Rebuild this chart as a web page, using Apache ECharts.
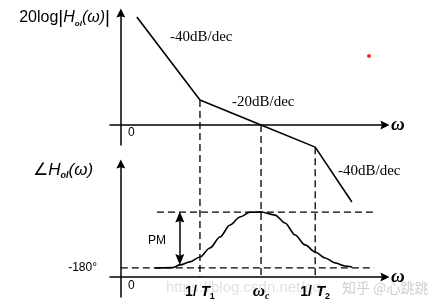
<!DOCTYPE html>
<html><head><meta charset="utf-8">
<script src="https://cdn.jsdelivr.net/npm/echarts@6/dist/echarts.min.js"></script>
<style>html,body{margin:0;padding:0;background:#fff}#c{width:436px;height:307px}</style>
</head><body><div id="c"></div>
<script>
// ---- data (x: log-frequency, decades from the origin) ----
const breakNames = ['1/T1', 'ωc', '1/T2'];
const breakFreqs = [1.315, 2.33, 3.23];
// magnitude asymptote, dB
const magFreqs  = [0.266, 1.315, 2.33, 3.23, 3.84];
const magValues = [86.4, 20, 0, -17.7, -61.6];
const slopeLabels = ['-40dB/dec', '-20dB/dec', '-40dB/dec'];
// phase, degrees
const phaseFreqs  = [0.566, 0.865, 0.982, 1.148, 1.315, 1.481, 1.648, 1.814, 1.98, 2.147, 2.33, 2.563, 2.729, 2.896, 3.062, 3.228, 3.395, 3.561, 3.728, 3.844];
const phaseValues = [-180, -179.7, -177.3, -174.6, -170.2, -162.1, -152.3, -141.6, -134.4, -130.2, -130, -132.7, -139.8, -150.5, -159.4, -165.7, -171.1, -175.5, -178.2, -179.1];
const phaseRefLevels = [-180, -130];      // -180° line and phase-margin level
const phaseRefStart  = [0, 0.6];          // where each reference line starts
const phaseRefEnd    = 4.21;
const phaseAxisLevel = -188;              // frequency axis of the phase plot
const pmFreq = 0.98;
const pmRange = [-134.5, -172.5];         // PM arrow shaft (heads reach -130 / the curve)
const phaseTickValues = [-180];
const phaseTickLabels = ['-180°'];

const SANS = 'Liberation Sans, Arial, DejaVu Sans';
const SERIF = 'Liberation Serif, Times New Roman, DejaVu Serif';
const HEAD = 'path://M5 0L10 10L5 8.5L0 10Z';

const chart = echarts.init(document.getElementById('c'), null, {renderer: 'canvas'});

const axisLineStyle = {color: '#000', width: 1.5};
const arrow = {show: true, symbol: ['none', HEAD], symbolSize: [9, 9], lineStyle: axisLineStyle};

const option = {
  animation: false,
  backgroundColor: '#fff',
  grid: [
    {left: 110, width: 275, top: 13, height: 132},
    {left: 110, width: 275, top: 164, height: 133}
  ],
  xAxis: [
    {type: 'value', gridIndex: 0, min: -0.18, max: 4.39,
     axisLine: Object.assign({onZero: true}, arrow),
     axisTick: {show: false}, splitLine: {show: false}, axisLabel: {show: false},
     name: 'ω', nameLocation: 'end', nameGap: 6,
     nameTextStyle: {fontFamily: SERIF, fontStyle: 'italic', fontWeight: 'bold', fontSize: 19, color: '#000', padding: [0, 0, 4, 0]}},
    {type: 'value', gridIndex: 1, min: -0.18, max: 4.39, offset: -20,
     axisLine: Object.assign({onZero: false}, arrow),
     axisTick: {show: false}, splitLine: {show: false},
     axisLabel: {show: true, customValues: breakFreqs, margin: 6, color: '#000',
       formatter: function (v) {
         const i = breakFreqs.findIndex(f => Math.abs(f - v) < 1e-6);
         const n = breakNames[i];
         if (n === 'ωc') return '{w|ω}{s2|c}';
         return '{n|1/ }{t|T}{s|' + n.slice(3) + '}';
       },
       rich: {
         n: {fontFamily: SANS, fontWeight: 'bold', fontSize: 14, lineHeight: 18, color: '#000'},
         t: {fontFamily: SANS, fontStyle: 'italic', fontWeight: 'bold', fontSize: 15, lineHeight: 18, color: '#000'},
         s: {fontFamily: SANS, fontWeight: 'bold', fontSize: 9, lineHeight: 9, verticalAlign: 'bottom', color: '#000'},
         w: {fontFamily: SERIF, fontStyle: 'italic', fontWeight: 'bold', fontSize: 17, lineHeight: 18, color: '#000'},
         s2: {fontFamily: SERIF, fontStyle: 'italic', fontWeight: 'bold', fontSize: 10, lineHeight: 9, verticalAlign: 'bottom', color: '#000'}
       }},
     name: 'ω', nameLocation: 'end', nameGap: 6,
     nameTextStyle: {fontFamily: SERIF, fontStyle: 'italic', fontWeight: 'bold', fontSize: 19, color: '#000', padding: [0, 0, 8, 0]}}
  ],
  yAxis: [
    {type: 'value', gridIndex: 0, min: -16, max: 89.6,
     axisLine: Object.assign({onZero: true}, arrow),
     axisTick: {show: false}, splitLine: {show: false}, axisLabel: {show: false}},
    {type: 'value', gridIndex: 1, min: -206, max: -87,
     axisLine: Object.assign({onZero: true}, arrow),
     axisTick: {show: false}, splitLine: {show: false},
     axisLabel: {show: true, customValues: phaseTickValues, margin: 13, fontFamily: SANS, fontSize: 12, color: '#000',
       formatter: v => phaseTickLabels[phaseTickValues.indexOf(v)]}}
  ],
  graphic: [
    {type: 'text', x: 110, y: 18, z: 10, style: {
      text: '{a|20log}{bar||}{h|H}{sub|ol}{p|(ω)}{bar||}',
      align: 'right', verticalAlign: 'middle',
      rich: {
        a: {fontFamily: SANS, fontSize: 16, lineHeight: 20, fill: '#000'},
        bar: {fontFamily: SANS, fontSize: 19, lineHeight: 20, fill: '#000'},
        h: {fontFamily: SANS, fontStyle: 'italic', fontSize: 16, lineHeight: 20, fill: '#000'},
        sub: {fontFamily: SANS, fontStyle: 'italic', fontWeight: 'bold', fontSize: 8, lineHeight: 9, verticalAlign: 'bottom', fill: '#000'},
        p: {fontFamily: SANS, fontStyle: 'italic', fontSize: 16, lineHeight: 20, fill: '#000'}
      }}},
    {type: 'text', x: 33, y: 170, z: 10, style: {
      text: '{h|∠H}{sub|ol}{p|(ω)}', verticalAlign: 'middle',
      rich: {
        h: {fontFamily: SANS, fontStyle: 'italic', fontSize: 17, lineHeight: 21, fill: '#000'},
        sub: {fontFamily: SANS, fontStyle: 'italic', fontWeight: 'bold', fontSize: 9, lineHeight: 9, verticalAlign: 'bottom', fill: '#000'},
        p: {fontFamily: SANS, fontStyle: 'italic', fontSize: 17, lineHeight: 21, fill: '#000'}
      }}},
    {type: 'text', x: 170, y: 37, z: 10, style: {text: slopeLabels[0], fontFamily: SERIF, fontSize: 15, fill: '#000', verticalAlign: 'middle'}},
    {type: 'text', x: 232, y: 102, z: 10, style: {text: slopeLabels[1], fontFamily: SERIF, fontSize: 15, fill: '#000', verticalAlign: 'middle'}},
    {type: 'text', x: 338, y: 171, z: 10, style: {text: slopeLabels[2], fontFamily: SERIF, fontSize: 15, fill: '#000', verticalAlign: 'middle'}},
    {type: 'text', x: 148, y: 241, z: 10, style: {text: 'PM', fontFamily: SANS, fontSize: 12, fill: '#000', verticalAlign: 'middle'}},
    {type: 'text', x: 128, y: 133, z: 10, style: {text: '0', fontFamily: SANS, fontSize: 12, fill: '#000', verticalAlign: 'middle'}},
    {type: 'text', x: 128, y: 286, z: 10, style: {text: '0', fontFamily: SANS, fontSize: 12, fill: '#000', verticalAlign: 'middle'}},
    {type: 'text', x: 166, y: 288, z: -1, style: {text: 'https://blog.csdn.net/qq', fontFamily: SANS, fontSize: 15, fill: '#e2e2e2', verticalAlign: 'middle'}},
    {type: 'text', x: 342, y: 288, z: 10, style: {text: '知乎 @心跳跳', fontFamily: 'Noto Sans CJK SC', fontSize: 14, fill: '#cfcfcf', verticalAlign: 'middle'}},
    {type: 'circle', z: 10, shape: {cx: 369, cy: 56, r: 2}, style: {fill: '#e8303a'}}
  ],
  series: [
    {type: 'line', name: 'magnitude', xAxisIndex: 0, yAxisIndex: 0, clip: false, symbol: 'none', z: 5,
     lineStyle: {color: '#000', width: 1.6},
     data: magFreqs.map((f, i) => [f, magValues[i]])},
    {type: 'line', name: 'phase', xAxisIndex: 1, yAxisIndex: 1, clip: false, symbol: 'none', z: 5,
     smooth: 0.3, smoothMonotone: 'x',
     lineStyle: {color: '#000', width: 1.6},
     data: phaseFreqs.map((f, i) => [f, phaseValues[i]])}
  ].concat(phaseRefLevels.map((lv, i) => ({
     type: 'line', xAxisIndex: 1, yAxisIndex: 1, clip: false, symbol: 'none', z: 3,
     lineStyle: {color: '#000', width: 1.3, type: [7, 4]},
     data: [[phaseRefStart[i], lv], [phaseRefEnd, lv]]
  }))).concat([{
     type: 'line', xAxisIndex: 1, yAxisIndex: 1, clip: false, symbol: 'none', z: 6,
     lineStyle: {opacity: 0}, data: [],
     markLine: {silent: true, symbol: [HEAD, HEAD], symbolSize: [9, 11], label: {show: false},
       lineStyle: {color: '#000', width: 1.5, type: 'solid'},
       data: [[{coord: [pmFreq, pmRange[0]]}, {coord: [pmFreq, pmRange[1]]}]]}
  }])
};
chart.setOption(option);

// vertical dashed guides from the magnitude asymptote down to the phase plot's frequency axis
const axisPx = chart.convertToPixel({gridIndex: 1}, [0, phaseAxisLevel]);
const bottomInTop = chart.convertFromPixel({gridIndex: 0}, axisPx)[1];
const guides = breakFreqs.map(f => {
  const mag = magValues[magFreqs.indexOf(f)];
  return {type: 'line', xAxisIndex: 0, yAxisIndex: 0, clip: false, symbol: 'none', z: 3,
    lineStyle: {color: '#000', width: 1.3, type: [7, 4]},
    data: [[f, mag], [f, bottomInTop]]};
});
chart.setOption({series: option.series.concat(guides)});
</script></body></html>
